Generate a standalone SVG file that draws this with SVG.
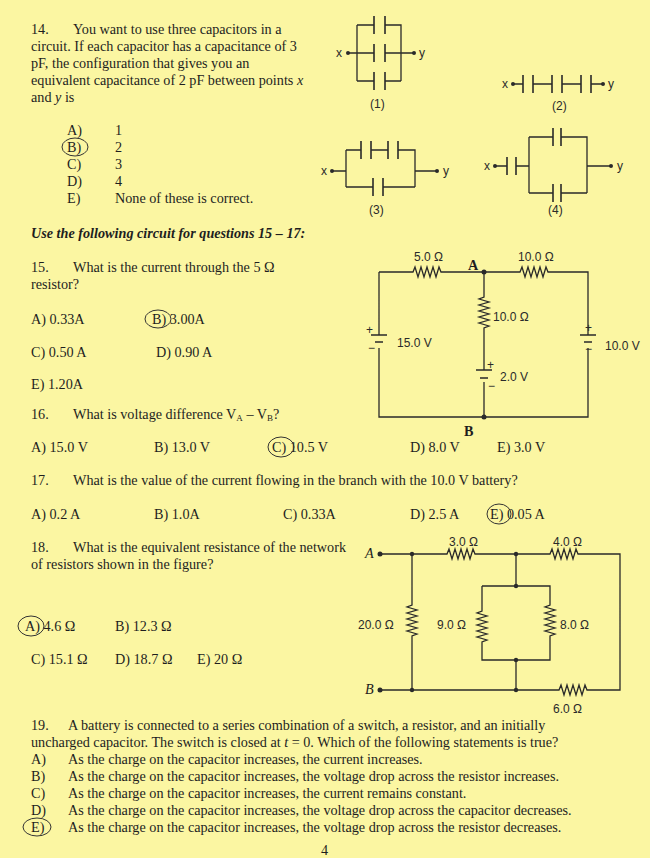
<svg xmlns="http://www.w3.org/2000/svg" width="650" height="858" viewBox="0 0 650 858">
<style>
.t{font-family:"Liberation Serif",serif;font-size:14.2px;fill:#1e1e1e}
.s{font-family:"Liberation Sans",sans-serif;font-size:12px;fill:#2a2a2a}
.w{stroke:#2a2a2a;stroke-width:1.3;fill:none}
.p{stroke:#2a2a2a;stroke-width:1.6;fill:none}
.c{stroke:#333;stroke-width:1;fill:none}
.d{fill:#2a2a2a}
</style>
<rect width="650" height="858" fill="#fbf6a2"/>
<g id="q14">
<text class="t" x="31" y="34">14.</text><text class="t" x="73" y="34">You want to use three capacitors in a</text>
<text class="t" x="31" y="51">circuit.  If each capacitor has a capacitance of 3</text>
<text class="t" x="31" y="68">pF, the configuration that gives you an</text>
<text class="t" x="31" y="85">equivalent capacitance of 2 pF between points <tspan font-style="italic">x</tspan></text>
<text class="t" x="31" y="102">and <tspan font-style="italic">y</tspan> is</text>
<text class="t" x="67" y="135">A)</text><text class="t" x="115" y="135">1</text>
<text class="t" x="67" y="152">B)</text><text class="t" x="115" y="152">2</text>
<text class="t" x="67" y="169">C)</text><text class="t" x="115" y="169">3</text>
<text class="t" x="67" y="186">D)</text><text class="t" x="115" y="186">4</text>
<text class="t" x="67" y="203">E)</text><text class="t" x="115" y="203">None of these is correct.</text>
<ellipse class="c" cx="75" cy="147" rx="13" ry="9"/>
</g>
<g id="cap1">
<path class="w" d="M357 25V81M357 25H374M385 25H401V81M357 81H374M385 81H401M348 53H374M385 53H414"/>
<path class="p" d="M374 16V34M385 16V34M374 44V62M385 44V62M374 72V90M385 72V90"/>
<circle class="d" cx="348" cy="53" r="2"/><circle class="d" cx="414" cy="53" r="2"/>
<text class="s" x="336" y="57">x</text><text class="s" x="419" y="57">y</text>
<text class="s" x="370" y="108">(1)</text>
</g>
<g id="cap2">
<path class="w" d="M513 84H523M533 84H552M562 84H581M591 84H603"/>
<path class="p" d="M523 75V93M533 75V93M552 75V93M562 75V93M581 75V93M591 75V93"/>
<circle class="d" cx="513" cy="84" r="2"/><circle class="d" cx="603" cy="84" r="2"/>
<text class="s" x="502" y="88">x</text><text class="s" x="608" y="88">y</text>
<text class="s" x="552" y="110">(2)</text>
</g>
<g id="cap3">
<path class="w" d="M332 171H346M346 150V187M346 150H361M371 150H388M398 150H415V187M346 187H373M383 187H415M415 171H437"/>
<path class="p" d="M361 141V159M371 141V159M388 141V159M398 141V159M373 178V196M383 178V196"/>
<circle class="d" cx="332" cy="171" r="2"/><circle class="d" cx="437" cy="171" r="2"/>
<text class="s" x="321" y="175">x</text><text class="s" x="443" y="175">y</text>
<text class="s" x="369" y="214">(3)</text>
</g>
<g id="cap4">
<path class="w" d="M495 166H507M516 166H529M529 137V193M529 137H553M561 137H587V193M529 193H553M561 193H587M587 166H611"/>
<path class="p" d="M507 157V175M516 157V175M553 128V146M561 128V146M553 184V202M561 184V202"/>
<circle class="d" cx="495" cy="166" r="2"/><circle class="d" cx="611" cy="166" r="2"/>
<text class="s" x="484" y="170">x</text><text class="s" x="617" y="170">y</text>
<text class="s" x="548" y="214">(4)</text>
</g>
<g id="q15-17">
<text class="t" x="31" y="238" font-style="italic" font-weight="bold">Use the following circuit for questions 15 – 17:</text>
<text class="t" x="31" y="272">15.</text><text class="t" x="73" y="272">What is the current through the 5 Ω</text>
<text class="t" x="31" y="289">resistor?</text>
<text class="t" x="31" y="324">A) 0.33A</text><text class="t" x="152" y="324">B) 3.00A</text>
<ellipse class="c" cx="158" cy="319" rx="13" ry="9"/>
<text class="t" x="31" y="357">C) 0.50 A</text><text class="t" x="156" y="357">D) 0.90 A</text>
<text class="t" x="31" y="389">E) 1.20A</text>
<text class="t" x="31" y="419">16.</text><text class="t" x="73" y="419">What is voltage difference V<tspan font-size="9" dy="2">A</tspan><tspan dy="-2"> – V</tspan><tspan font-size="9" dy="2">B</tspan><tspan dy="-2">?</tspan></text>
<text class="t" x="31" y="452">A) 15.0 V</text><text class="t" x="154" y="452">B) 13.0 V</text><text class="t" x="272" y="452">C) 10.5 V</text>
<ellipse class="c" cx="281" cy="447" rx="13" ry="10"/>
<text class="t" x="410" y="452">D) 8.0 V</text><text class="t" x="497" y="452">E) 3.0 V</text>
<text class="t" x="31" y="485">17.</text><text class="t" x="73" y="485">What is the value of the current flowing in the branch with the 10.0 V battery?</text>
<text class="t" x="31" y="519">A) 0.2 A</text><text class="t" x="154" y="519">B) 1.0A</text><text class="t" x="283" y="519">C) 0.33A</text><text class="t" x="410" y="519">D) 2.5 A</text><text class="t" x="490" y="519">E) 0.05 A</text>
<ellipse class="c" cx="499" cy="514" rx="12" ry="10"/>
</g>
<g id="circuit1">
<path class="w" d="M379 272H413l2 -5l3 10l3 -10l3 10l3 -10l3 10l3 -10l3 10l3 -10l2 5H520l2 -5l3 10l3 -10l3 10l3 -10l3 10l3 -10l3 10l3 -10l2 5H588V335M588 348V417H379V348M379 335V272M484 272V297l-5 2l10 3l-10 3l10 3l-10 3l10 3l-10 3l10 3l-10 3l10 3l-5 2V370M484 382V417"/>
<path class="p" d="M371 335H387M375 342H383M580 335H596M584 342H592M476 370H492M480 378H488"/>
<circle class="d" cx="484" cy="272" r="2.5"/><circle class="d" cx="484" cy="417" r="2.5"/>
<text class="s" x="414" y="261">5.0 Ω</text>
<text class="t" x="468" y="270" font-weight="bold" font-size="12">A</text>
<text class="s" x="518" y="261">10.0 Ω</text>
<text class="s" x="493" y="321">10.0 Ω</text>
<text class="s" x="366" y="334">+</text><text class="s" x="368" y="352">−</text>
<text class="s" x="397" y="347">15.0 V</text>
<text class="s" x="585" y="332">+</text><text class="s" x="585" y="353">−</text>
<text class="s" x="605" y="350">10.0 V</text>
<text class="s" x="487" y="369">+</text><text class="s" x="488" y="390">−</text>
<text class="s" x="500" y="381">2.0 V</text>
<text class="t" x="464" y="436" font-weight="bold" font-size="12">B</text>
</g>
<g id="q18">
<text class="t" x="31" y="552">18.</text><text class="t" x="73" y="552">What is the equivalent resistance of the network</text>
<text class="t" x="31" y="569">of resistors shown in the figure?</text>
<text class="t" x="25" y="631">A) 4.6 Ω</text><text class="t" x="115" y="631">B) 12.3 Ω</text>
<ellipse class="c" cx="31" cy="626" rx="13" ry="10"/>
<text class="t" x="31" y="664">C) 15.1 Ω</text><text class="t" x="115" y="664">D) 18.7 Ω</text><text class="t" x="197" y="664">E) 20 Ω</text>
</g>
<g id="circuit2">
<path class="w" d="M380 554H447l2 -5l3 10l3 -10l3 10l3 -10l3 10l3 -10l3 10l3 -10l2 5H550l2 -5l3 10l3 -10l3 10l3 -10l3 10l3 -10l3 10l3 -10l2 5H620V690H587l-2 -5l-3 10l-3 -10l-3 10l-3 -10l-3 10l-3 -10l-3 10l-3 -10l-2 5H380M412 554V605l-5 2l10 3l-10 3l10 3l-10 3l10 3l-10 3l10 3l-10 3l10 3l-5 2V690M516 554V586M482 586H550V605l-5 2l10 3l-10 3l10 3l-10 3l10 3l-10 3l10 3l-10 3l10 3l-5 2V660H482V642l5 -2l-10 -3l10 -3l-10 -3l10 -3l-10 -3l10 -3l-10 -3l10 -3l-10 -3l5 -2V586M516 660V690"/>
<circle class="d" cx="380" cy="554" r="2.5"/><circle class="d" cx="380" cy="690" r="2.5"/>
<circle class="d" cx="412" cy="554" r="2.2"/><circle class="d" cx="516" cy="554" r="2.2"/><circle class="d" cx="516" cy="586" r="2.2"/><circle class="d" cx="516" cy="660" r="2.2"/><circle class="d" cx="412" cy="690" r="2.2"/><circle class="d" cx="516" cy="690" r="2.2"/>
<text class="t" x="365" y="558" font-style="italic" font-size="11">A</text>
<text class="t" x="365" y="694" font-style="italic" font-size="11">B</text>
<text class="s" x="449" y="546">3.0 Ω</text><text class="s" x="553" y="546">4.0 Ω</text>
<text class="s" x="358" y="629">20.0 Ω</text><text class="s" x="437" y="629">9.0 Ω</text><text class="s" x="560" y="629">8.0 Ω</text>
<text class="s" x="553" y="713">6.0 Ω</text>
</g>
<g id="q19">
<text class="t" x="31" y="730">19.</text><text class="t" x="68" y="730">A battery is connected to a series combination of a switch, a resistor, and an initially</text>
<text class="t" x="31" y="747">uncharged capacitor.  The switch is closed at <tspan font-style="italic">t</tspan> = 0.  Which of the following statements is true?</text>
<text class="t" x="31" y="764">A)</text><text class="t" x="68" y="764">As the charge on the capacitor increases, the current increases.</text>
<text class="t" x="31" y="781">B)</text><text class="t" x="68" y="781">As the charge on the capacitor increases, the voltage drop across the resistor increases.</text>
<text class="t" x="31" y="798">C)</text><text class="t" x="68" y="798">As the charge on the capacitor increases, the current remains constant.</text>
<text class="t" x="31" y="815">D)</text><text class="t" x="68" y="815">As the charge on the capacitor increases, the voltage drop across the capacitor decreases.</text>
<text class="t" x="31" y="832">E)</text><text class="t" x="68" y="832">As the charge on the capacitor increases, the voltage drop across the resistor decreases.</text>
<ellipse class="c" cx="37" cy="827" rx="14" ry="9"/>
<text class="t" x="321" y="855">4</text>
</g>
</svg>
